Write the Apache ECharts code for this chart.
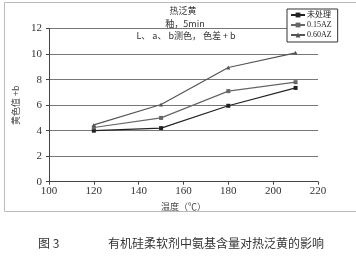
<!DOCTYPE html>
<html><head><meta charset="utf-8">
<script src="https://cdn.jsdelivr.net/npm/echarts@6/dist/echarts.min.js"></script>
<style>html,body{margin:0;padding:0;background:#fff}#c{width:356px;height:264px}</style>
</head><body><div id="c"></div>
<script>
var temps = [120, 150, 180, 210];
var seriesNames = ['未处理', '0.15AZ', '0.60AZ'];
var untreated = [4.0, 4.2, 5.95, 7.35];
var az015 = [4.25, 5.0, 7.1, 7.8];
var az060 = [4.45, 6.05, 8.95, 10.1];
var xTicks = [100, 120, 140, 160, 180, 200, 220];
var yTicks = [0, 2, 4, 6, 8, 10, 12];

var serif = '"Liberation Serif","Noto Sans CJK SC",serif';
function pairs(v){ return temps.map(function(t,i){ return [t, v[i]]; }); }
var chart = echarts.init(document.getElementById('c'));
chart.setOption({
  animation: false,
  backgroundColor: '#fff',
  grid: {left: 49, right: 38, top: 28.6, bottom: 82.3},
  xAxis: {
    type: 'value', min: xTicks[0], max: xTicks[xTicks.length-1], interval: 20,
    name: '温度（℃）', nameLocation: 'middle', nameGap: 15,
    nameTextStyle: {fontFamily: '"Noto Sans CJK SC"', fontSize: 9, color: '#444'},
    axisLine: {show: true, lineStyle: {color: '#444', width: 1}},
    axisTick: {show: true, length: 3, lineStyle: {color: '#444'}},
    axisLabel: {fontFamily: serif, fontSize: 11, color: '#333', margin: 4},
    splitLine: {show: false}
  },
  yAxis: {
    type: 'value', min: yTicks[0], max: yTicks[yTicks.length-1], interval: 2,
    name: '黄色值 +b', nameLocation: 'middle', nameGap: 14, nameRotate: 90,
    nameTextStyle: {fontFamily: '"Noto Sans CJK SC"', fontSize: 9, color: '#444'},
    axisLine: {show: true, lineStyle: {color: '#444', width: 1}},
    axisTick: {show: true, length: 3, lineStyle: {color: '#444'}},
    axisLabel: {fontFamily: serif, fontSize: 11, color: '#333', margin: 7},
    splitLine: {show: true, lineStyle: {color: '#777', width: 1}}
  },
  legend: {
    orient: 'vertical', left: 287, top: 9, padding: [2,6,3,3], itemGap: 2,
    itemWidth: 14, itemHeight: 6, borderColor: '#333', borderWidth: 1,
    backgroundColor: '#fff',
    textStyle: {fontFamily: serif, fontSize: 8, color: '#222', padding: [0,0,0,-3]},
    data: seriesNames
  },
  series: [
    {name: seriesNames[0], type: 'line', data: pairs(untreated), symbol: 'rect', symbolSize: 4,
     itemStyle: {color: '#222'}, lineStyle: {color: '#222', width: 1.2}},
    {name: seriesNames[1], type: 'line', data: pairs(az015), symbol: 'rect', symbolSize: 4,
     itemStyle: {color: '#666'}, lineStyle: {color: '#666', width: 1.2}},
    {name: seriesNames[2], type: 'line', data: pairs(az060), symbol: 'triangle', symbolSize: 4,
     itemStyle: {color: '#555'}, lineStyle: {color: '#555', width: 1.2}}
  ],
  graphic: [
    {type: 'rect', left: 2, top: 0, shape: {width: 352, height: 209}, style: {fill: 'none', stroke: '#bbb', lineWidth: 1}, silent: true},
    {type: 'text', x: 183, y: 11, style: {text: '热泛黄', font: '9px "Noto Sans CJK SC"', fill: '#333', align: 'center', verticalAlign: 'middle'}},
    {type: 'text', x: 185, y: 24, style: {text: '釉，5min', font: '9px "Noto Sans CJK SC"', fill: '#333', align: 'center', verticalAlign: 'middle'}},
    {type: 'text', x: 186, y: 36, style: {text: 'L、 a、 b测色， 色差 + b', font: '9px "Noto Sans CJK SC"', fill: '#333', align: 'center', verticalAlign: 'middle'}},
    {type: 'text', left: 38, top: 237, style: {text: '图 3', font: '12px "Noto Sans CJK SC"', fill: '#333'}},
    {type: 'text', left: 108, top: 237, style: {text: '有机硅柔软剂中氨基含量对热泛黄的影响', font: '12px "Noto Sans CJK SC"', fill: '#333'}}
  ]
});
</script></body></html>
